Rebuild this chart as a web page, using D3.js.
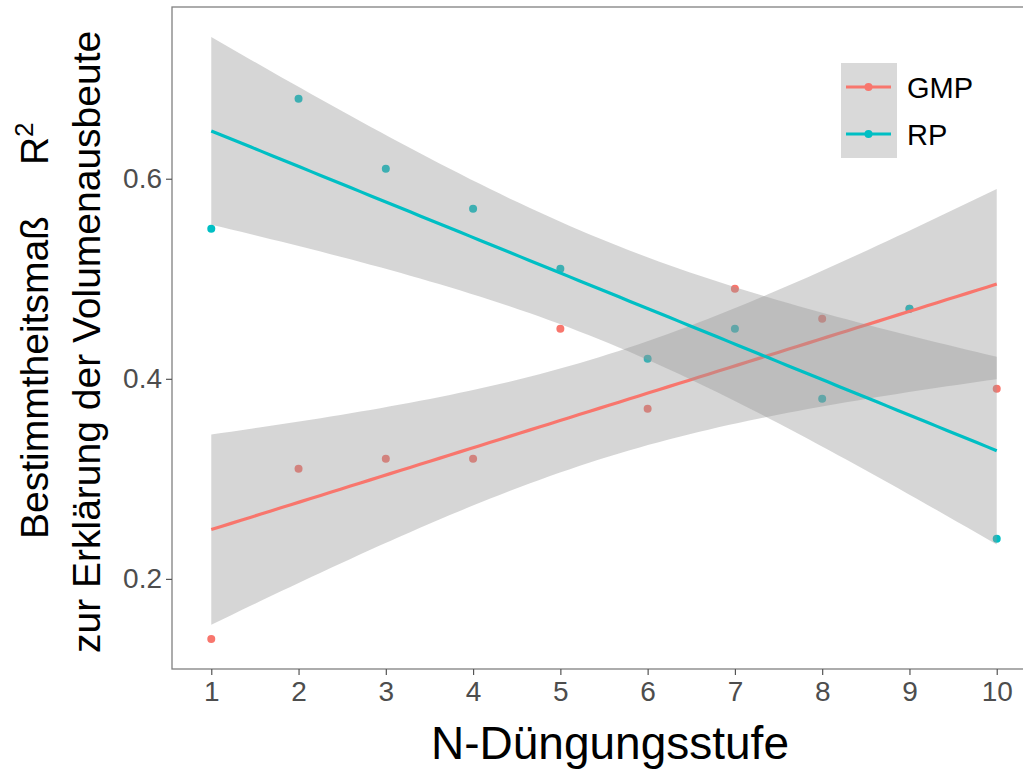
<!DOCTYPE html>
<html>
<head>
  <meta charset="utf-8">
  <script src="https://d3js.org/d3.v7.min.js"></script>
  <style>
    body { margin: 0; background: #fff; }
    text { font-family: "Liberation Sans", Arial, sans-serif; }
  </style>
</head>
<body>
<svg id="chart"></svg>
<script>
  var width = 1023;
  var height = 769;

  // data
  var stufen = [1, 2, 3, 4, 5, 6, 7, 8, 9, 10];
  var gmp = [0.14, 0.31, 0.32, 0.32, 0.45, 0.37, 0.49, 0.46, 0.47, 0.39];
  var rp = [0.55, 0.68, 0.61, 0.57, 0.51, 0.42, 0.45, 0.38, 0.47, 0.24];
  var seriesNames = ["GMP", "RP"];
  var seriesColors = ["#F8766D", "#00BFC4"];
  var xTicks = [1, 2, 3, 4, 5, 6, 7, 8, 9, 10];
  var yTicks = [0.2, 0.4, 0.6];

  var tq = 2.306004; // t(0.975, df = 8)

  // linear model with 95% confidence band, like geom_smooth(method = "lm")
  function fitLm(xs, ys) {
    var n = xs.length;
    var xm = d3.mean(xs), ym = d3.mean(ys);
    var sxx = d3.sum(xs, x => (x - xm) * (x - xm));
    var sxy = d3.sum(xs, (x, i) => (x - xm) * (ys[i] - ym));
    var b = sxy / sxx, a = ym - b * xm;
    var sse = d3.sum(xs, (x, i) => Math.pow(ys[i] - (a + b * x), 2));
    var s = Math.sqrt(sse / (n - 2));
    var grid = d3.range(80).map(i => d3.min(xs) + i * (d3.max(xs) - d3.min(xs)) / 79);
    return grid.map(function(x) {
      var fit = a + b * x;
      var se = s * Math.sqrt(1 / n + (x - xm) * (x - xm) / sxx);
      return { x: x, y: fit, lo: fit - tq * se, hi: fit + tq * se };
    });
  }

  var series = seriesNames.map(function(name, k) {
    var vals = k == 0 ? gmp : rp;
    return {
      name: name,
      color: seriesColors[k],
      points: stufen.map((x, i) => ({ x: x, y: vals[i] })),
      fit: fitLm(stufen, vals)
    };
  });

  var panelLeft = 172, panelTop = 7, panelBottom = 669;

  var xExt = d3.extent(stufen);
  var xPad = (xExt[1] - xExt[0]) * 0.05;
  var x = d3.scaleLinear()
    .domain([xExt[0] - xPad, xExt[1] + xPad])
    .range([panelLeft, 1036]);

  var allY = [];
  series.forEach(function(s) {
    s.points.forEach(p => allY.push(p.y));
    s.fit.forEach(f => { allY.push(f.lo); allY.push(f.hi); });
  });
  var yExt = d3.extent(allY);
  var yPad = (yExt[1] - yExt[0]) * 0.05;
  var y = d3.scaleLinear()
    .domain([yExt[0] - yPad, yExt[1] + yPad])
    .range([panelBottom, panelTop]);

  var svg = d3.select("#chart")
    .attr("width", width)
    .attr("height", height);

  svg.append("defs").append("clipPath").attr("id", "panel")
    .append("rect")
    .attr("x", panelLeft).attr("y", panelTop)
    .attr("width", x.range()[1] - panelLeft).attr("height", panelBottom - panelTop);

  var g = svg.append("g").attr("clip-path", "url(#panel)");

  // points first, then ribbons and lines on top (ggplot layer order)
  series.forEach(function(s) {
    g.selectAll(null)
      .data(s.points).enter()
      .append("circle")
      .attr("cx", d => x(d.x))
      .attr("cy", d => y(d.y))
      .attr("r", 4)
      .attr("fill", s.color);
  });

  var area = d3.area()
    .x(d => x(d.x))
    .y0(d => y(d.lo))
    .y1(d => y(d.hi));

  var line = d3.line()
    .x(d => x(d.x))
    .y(d => y(d.y));

  series.forEach(function(s) {
    g.append("path")
      .attr("d", area(s.fit))
      .attr("fill", "#999999")
      .attr("fill-opacity", 0.4);
    g.append("path")
      .attr("d", line(s.fit))
      .attr("fill", "none")
      .attr("stroke", s.color)
      .attr("stroke-width", 3.2);
  });

  // panel border
  svg.append("rect")
    .attr("x", panelLeft).attr("y", panelTop)
    .attr("width", x.range()[1] - panelLeft).attr("height", panelBottom - panelTop)
    .attr("fill", "none")
    .attr("stroke", "#808080")
    .attr("stroke-width", 1.3);

  // axes
  var xAxis = svg.append("g")
    .attr("transform", "translate(0," + panelBottom + ")")
    .call(d3.axisBottom(x).tickValues(xTicks).tickSize(6).tickPadding(6).tickFormat(d3.format("d")));
  var yAxis = svg.append("g")
    .attr("transform", "translate(" + panelLeft + ",0)")
    .call(d3.axisLeft(y).tickValues(yTicks).tickSize(6).tickPadding(4).tickFormat(d3.format(".1f")));

  [xAxis, yAxis].forEach(function(ax) {
    ax.select(".domain").remove();
    ax.selectAll(".tick line").attr("stroke", "#555").attr("stroke-width", 1.2);
    ax.selectAll(".tick text")
      .attr("fill", "#4D4D4D")
      .style("font-size", "28px")
      .style("font-family", "'Liberation Sans', Arial, sans-serif");
  });
  xAxis.selectAll(".tick text").attr("dy", "0.71em");

  // axis titles
  svg.append("text")
    .attr("x", 610).attr("y", 759)
    .attr("text-anchor", "middle")
    .style("font-size", "46px")
    .text("N-Düngungsstufe");

  var yt1 = svg.append("text")
    .attr("transform", "translate(48,539) rotate(-90)")
    .style("font-size", "39px");
  yt1.append("tspan").text("Bestimmtheitsmaß");
  yt1.append("tspan").attr("dx", 51).text("R");
  yt1.append("tspan").attr("dy", -15).style("font-size", "26px").text("2");

  svg.append("text")
    .attr("transform", "translate(100,653) rotate(-90)")
    .style("font-size", "39px")
    .text("zur Erklärung der Volumenausbeute");

  // legend
  var legend = svg.append("g");
  legend.append("rect")
    .attr("x", 841).attr("y", 63)
    .attr("width", 56).attr("height", 95)
    .attr("fill", "#D9D9D9");

  var keyY = d3.scalePoint().domain(seriesNames).range([87, 134]);

  series.forEach(function(s) {
    var ky = keyY(s.name);
    legend.append("line")
      .attr("x1", 846).attr("x2", 891)
      .attr("y1", ky).attr("y2", ky)
      .attr("stroke", s.color)
      .attr("stroke-width", 3.2);
    legend.append("circle")
      .attr("cx", 868.5).attr("cy", ky)
      .attr("r", 4)
      .attr("fill", s.color);
    legend.append("text")
      .attr("x", 907).attr("y", ky + 11)
      .style("font-size", "29px")
      .text(s.name);
  });
</script>
</body>
</html>
